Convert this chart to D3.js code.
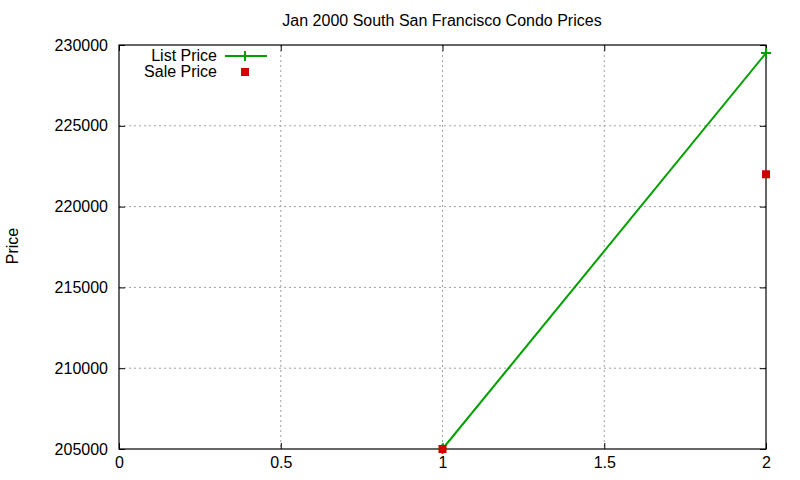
<!DOCTYPE html>
<html>
<head>
<meta charset="utf-8">
<script src="https://cdn.jsdelivr.net/npm/d3@7"></script>
<style>
  body { margin: 0; background: #fff; }
  text { font-family: "Liberation Sans", Arial, sans-serif; fill: #000; }
</style>
</head>
<body>
<div id="chart"></div>
<script>
// data
const listX = [1, 2];
const listY = [205000, 229500];
const saleX = [1, 2];
const saleY = [205000, 222000];
const xTicks = [0, 0.5, 1, 1.5, 2];
const yTicks = [205000, 210000, 215000, 220000, 225000, 230000];
const seriesNames = ["List Price", "Sale Price"];

const FRAME_WIDTH = 800;
const FRAME_HEIGHT = 480;
const MARGINS = {left: 119, right: 34, top: 45, bottom: 31};
const VIS_WIDTH = FRAME_WIDTH - MARGINS.left - MARGINS.right;
const VIS_HEIGHT = FRAME_HEIGHT - MARGINS.top - MARGINS.bottom;

const GREEN = "#00a000";
const RED = "#d00000";
const FONT = "16px";

const X_SCALE = d3.scaleLinear().domain([0, 2]).range([0, VIS_WIDTH]);
const Y_SCALE = d3.scaleLinear().domain([205000, 230000]).range([VIS_HEIGHT, 0]);

const svg = d3.select("#chart").append("svg")
    .attr("width", FRAME_WIDTH)
    .attr("height", FRAME_HEIGHT);

const plot = svg.append("g")
    .attr("transform", "translate(" + MARGINS.left + "," + MARGINS.top + ")");

// grid
plot.append("g").selectAll("line")
    .data(xTicks.slice(1, -1))
    .enter().append("line")
      .attr("x1", (d) => X_SCALE(d)).attr("x2", (d) => X_SCALE(d))
      .attr("y1", 0).attr("y2", VIS_HEIGHT)
      .attr("stroke", "#a0a0a0").attr("stroke-dasharray", "2,3");

plot.append("g").selectAll("line")
    .data(yTicks.slice(1, -1))
    .enter().append("line")
      .attr("x1", 0).attr("x2", VIS_WIDTH)
      .attr("y1", (d) => Y_SCALE(d)).attr("y2", (d) => Y_SCALE(d))
      .attr("stroke", "#a0a0a0").attr("stroke-dasharray", "2,3");

// axes: gnuplot style inward ticks, mirrored
function styleAxis(g) {
  g.select(".domain").remove();
  g.selectAll(".tick line").attr("stroke", "#000");
  g.selectAll(".tick text").attr("font-size", FONT)
    .attr("font-family", "Liberation Sans, Arial, sans-serif");
}

plot.append("g")
    .attr("transform", "translate(0," + VIS_HEIGHT + ")")
    .call(d3.axisBottom(X_SCALE).tickValues(xTicks).tickFormat(d3.format("")).tickSizeInner(-6).tickPadding(8))
    .call(styleAxis);

plot.append("g")
    .call(d3.axisTop(X_SCALE).tickValues(xTicks).tickFormat("").tickSizeInner(-6))
    .call(styleAxis);

plot.append("g")
    .call(d3.axisLeft(Y_SCALE).tickValues(yTicks).tickFormat(d3.format("d")).tickSizeInner(-6).tickPadding(11))
    .call(styleAxis);

plot.append("g")
    .attr("transform", "translate(" + VIS_WIDTH + ",0)")
    .call(d3.axisRight(Y_SCALE).tickValues(yTicks).tickFormat("").tickSizeInner(-6))
    .call(styleAxis);

// border
plot.append("rect")
    .attr("width", VIS_WIDTH).attr("height", VIS_HEIGHT)
    .attr("fill", "none").attr("stroke", "#000").attr("stroke-width", 1.2);

// list price line
const listData = listX.map((x, i) => ({x: x, y: listY[i]}));
plot.append("path")
    .datum(listData)
    .attr("fill", "none")
    .attr("stroke", GREEN)
    .attr("stroke-width", 2)
    .attr("d", d3.line().x((d) => X_SCALE(d.x)).y((d) => Y_SCALE(d.y)));

plot.append("g").selectAll("path")
    .data(listData)
    .enter().append("path")
      .attr("d", (d) => {
        const cx = X_SCALE(d.x), cy = Y_SCALE(d.y);
        return "M" + (cx - 5) + "," + cy + "H" + (cx + 5) + "M" + cx + "," + (cy - 5) + "V" + (cy + 5);
      })
      .attr("stroke", GREEN).attr("stroke-width", 2);

// sale price points
plot.append("g").selectAll("rect")
    .data(saleX.map((x, i) => ({x: x, y: saleY[i]})))
    .enter().append("rect")
      .attr("x", (d) => X_SCALE(d.x) - 4)
      .attr("y", (d) => Y_SCALE(d.y) - 4)
      .attr("width", 8).attr("height", 8)
      .attr("fill", RED);

// legend
const legend = svg.append("g");
legend.append("text").attr("x", 217).attr("y", 61).attr("text-anchor", "end")
    .attr("font-size", FONT).text(seriesNames[0]);
legend.append("line").attr("x1", 225).attr("x2", 267).attr("y1", 56).attr("y2", 56)
    .attr("stroke", GREEN).attr("stroke-width", 2);
legend.append("path").attr("d", "M240,56H250M245,51V61").attr("stroke", GREEN).attr("stroke-width", 2);
legend.append("text").attr("x", 217).attr("y", 77).attr("text-anchor", "end")
    .attr("font-size", FONT).text(seriesNames[1]);
legend.append("rect").attr("x", 241).attr("y", 68).attr("width", 8).attr("height", 8).attr("fill", RED);

// title and label
svg.append("text").attr("x", 442).attr("y", 26).attr("text-anchor", "middle")
    .attr("font-size", FONT).text("Jan 2000 South San Francisco Condo Prices");

svg.append("text").attr("transform", "translate(18,246) rotate(-90)")
    .attr("text-anchor", "middle").attr("font-size", FONT).text("Price");
</script>
</body>
</html>
